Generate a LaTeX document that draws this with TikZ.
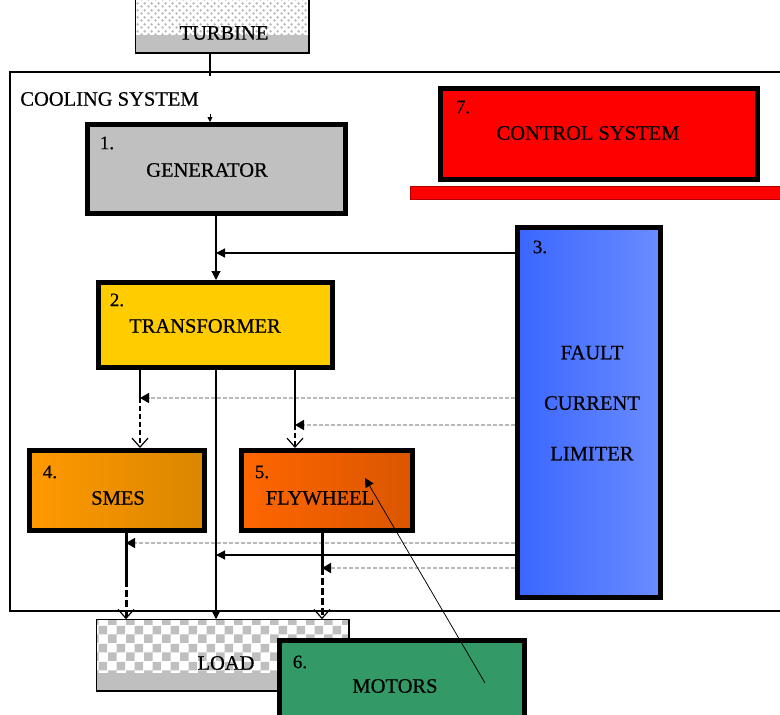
\documentclass[tikz,border=0pt]{standalone}
\usepackage{fontspec}
\setmainfont{Liberation Serif}
\newfontfamily\lblfont{Liberation Serif}[FakeBold=0.6]
\usetikzlibrary{arrows.meta,patterns}
\definecolor{gengray}{HTML}{C0C0C0}
\definecolor{transyellow}{HTML}{FFCC00}
\definecolor{ctrlred}{HTML}{FF0000}
\definecolor{motorgreen}{HTML}{339966}
\definecolor{fclleft}{HTML}{3A66FF}
\definecolor{fclright}{HTML}{6A8CFF}
\definecolor{smesleft}{HTML}{FF9900}
\definecolor{smesright}{HTML}{DA8600}
\definecolor{flyleft}{HTML}{FF6600}
\definecolor{flyright}{HTML}{DA5600}
\pgfdeclarepatternformonly{loadcheck}{\pgfpointorigin}{\pgfpoint{18pt}{18pt}}{\pgfpoint{18pt}{18pt}}{%
  \pgfpathrectangle{\pgfpointorigin}{\pgfpoint{9pt}{9pt}}%
  \pgfpathrectangle{\pgfpoint{9pt}{9pt}}{\pgfpoint{9pt}{9pt}}%
  \pgfusepath{fill}}
\pgfdeclarepatternformonly{turbdots}{\pgfpointorigin}{\pgfpoint{7pt}{7pt}}{\pgfpoint{7pt}{7pt}}{%
  \pgfpathcircle{\pgfpoint{1.75pt}{1.75pt}}{1.5pt}%
  \pgfpathcircle{\pgfpoint{5.25pt}{5.25pt}}{1.5pt}%
  \pgfusepath{fill}}
\tikzset{every picture/.style={line width=0.75pt}}
\tikzset{
  blk/.style={draw, line width=5pt, inner sep=0pt},
  thinbox/.style={draw, line width=1.5pt, inner sep=0pt},
  lbl/.style={inner sep=0pt, font=\lblfont\fontsize{20.5}{22}\selectfont},
  num/.style={inner sep=0pt, font=\lblfont\fontsize{19}{20}\selectfont},
  arr/.style={-{Triangle[length=9pt,width=9pt]}},
  barb/.style={dash pattern=on 5pt off 3pt, -{Straight Barb[length=9pt,width=16pt,line width=1.2pt]}},
  fb/.style={gray!55, line width=1.5pt, dash pattern=on 4pt off 2pt, -{Triangle[length=9pt,width=10pt,color=black]}},
  heavy/.style={line width=3pt},
  heavydash/.style={line width=3pt, dash pattern=on 7pt off 3pt, -{Straight Barb[length=9pt,width=16pt,line width=1.2pt]}}
}

\begin{document}
\begin{tikzpicture}[x=1pt,y=1pt,yscale=-1]
    \useasboundingbox (0,0) rectangle (780,715);
    \node[thinbox, line width=1.2pt, minimum width=790, minimum height=539] (cool) at (405,341.5) {};
    \node[lbl, anchor=west] (coollbl) at (20,99) {COOLING SYSTEM};

    \node[thinbox, fill=white, pattern=turbdots, pattern color=gray!55, minimum width=172, minimum height=62, draw=none] (turb) at (222,21) {};
    \fill[gengray] (turb.south west) rectangle (turb.east |- 0,35);
    \draw[line width=1.5pt] (turb.north west) rectangle (turb.south east);

    \node[blk, fill=gengray, minimum width=258, minimum height=89] (gen) at (216.5,169) {};
    \node[blk, fill=ctrlred, minimum width=317, minimum height=91] (ctrl) at (599,134) {};
    \node[draw=red!70!black, line width=1pt, fill=ctrlred, minimum width=380, minimum height=13, inner sep=0pt] (bar) at (600,193) {};
    \node[blk, fill=transyellow, minimum width=234, minimum height=85] (trans) at (215.5,325) {};
    \node[blk, left color=fclleft, right color=fclright, minimum width=143, minimum height=370] (fcl) at (589,412.5) {};
    \node[blk, left color=smesleft, right color=smesright, minimum width=175, minimum height=80] (smes) at (117,490.5) {};
    \node[blk, left color=flyleft, right color=flyright, minimum width=171, minimum height=80] (fly) at (327,490.5) {};

    \node[thinbox, fill=white, pattern=loadcheck, pattern color=gray!50, draw=none, minimum width=251, minimum height=70] (load) at (222.5,655) {};
    \fill[gray!50] (load.south west) rectangle (load.east |- 0,673);
    \draw[line width=1.5pt] (load.north west) rectangle (load.south east);

    \node[blk, fill=motorgreen, minimum width=245, minimum height=87] (mot) at (402,684) {};

    \node[lbl] (turblbl) at (224,33) {TURBINE};
    \node[lbl] (genlbl) at (207,170) {GENERATOR};
    \node[lbl] (ctrllbl) at (588,133) {CONTROL SYSTEM};
    \node[lbl] (translbl) at (205,326) {TRANSFORMER};
    \node[lbl, align=center, font=\lblfont\fontsize{20.5}{50.5}\selectfont] (fcllbl) at (592,403) {FAULT\\CURRENT\\LIMITER};
    \node[lbl] (smeslbl) at (118,498) {SMES};
    \node[lbl] (flylbl) at (320,498) {FLYWHEEL};
    \node[lbl] (loadlbl) at (226,663) {LOAD};
    \node[lbl] (motlbl) at (395,686) {MOTORS};

    \node[num] (n1) at (107,143) {1.};
    \node[num] (n2) at (117,300) {2.};
    \node[num] (n3) at (540,247) {3.};
    \node[num] (n4) at (50,472) {4.};
    \node[num] (n5) at (262,472) {5.};
    \node[num] (n6) at (300,662) {6.};
    \node[num] (n7) at (463,107) {7.};

    \coordinate (tg) at (210,76);
    \coordinate (gi) at (210,114);
    \coordinate (f1) at (216,253);
    \coordinate (s1) at (140,398);
    \coordinate (w1) at (295,425);
    \coordinate (m1) at (216,555);
    \coordinate (s2) at (126,543);
    \coordinate (s3) at (126,580);
    \coordinate (w2) at (322,568);
    \coordinate (mt) at (485,683);
    \coordinate (ft) at (365,478);

    \draw[line width=1.2pt] (turb.south -| tg) -- (tg);
    \draw[-{Triangle[length=5pt,width=5pt]}] (gi) -- (gi |- gen.north);
    \draw[arr, line width=1.2pt] (gen.south -| f1) -- (f1 |- trans.north);
    \draw[arr, line width=1.2pt] (fcl.west |- f1) -- (f1);
    \draw[line width=1.2pt] (trans.south -| s1) -- (s1);
    \draw[barb, line width=1.2pt] (s1) -- (s1 |- smes.north);
    \draw[fb] (fcl.west |- s1) -- (s1);
    \draw[line width=1.2pt] (trans.south -| w1) -- (w1);
    \draw[barb, line width=1.2pt] (w1) -- (w1 |- fly.north);
    \draw[fb] (fcl.west |- w1) -- (w1);
    \draw[arr, line width=1.2pt] (trans.south -| m1) -- (m1 |- load.north);
    \draw[arr, line width=1.2pt] (fcl.west |- m1) -- (m1);
    \draw[heavy] (smes.south -| s2) -- (s3);
    \draw[heavydash] (s3) -- (s3 |- load.north);
    \draw[fb] (fcl.west |- s2) -- (s2);
    \draw[heavy] (fly.south -| w2) -- (w2);
    \draw[heavydash] (w2) -- (w2 |- load.north);
    \draw[fb] (fcl.west |- w2) -- (w2);
    \draw[arr] (mt) -- (ft);
\end{tikzpicture}
\end{document}
